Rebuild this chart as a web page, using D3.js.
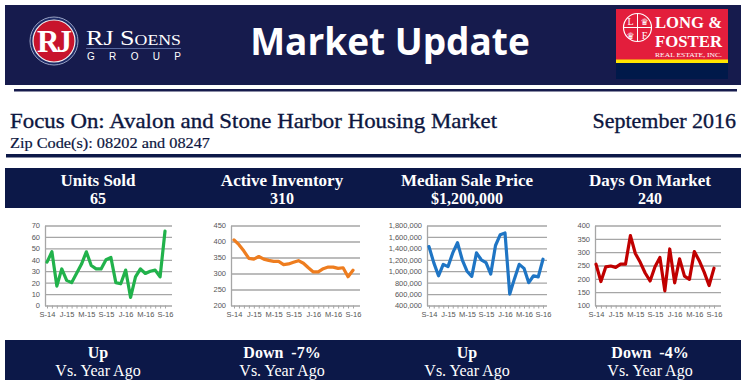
<!DOCTYPE html>
<html>
<head>
<meta charset="utf-8">
<script src="https://cdn.jsdelivr.net/npm/d3@7"></script>
<style>
  body { margin: 0; background: #fff; }
  svg { display: block; }
</style>
</head>
<body>
<svg id="page" width="745" height="381"></svg>
<script>
// Data
const months = ["S-14","O-14","N-14","D-14","J-15","F-15","M-15","A-15","M-15","J-15","J-15","A-15",
                "S-15","O-15","N-15","D-15","J-16","F-16","M-16","A-16","M-16","J-16","J-16","A-16","S-16"];
const labelEvery = [0, 4, 8, 12, 16, 20, 24];

const unitsSold       = [38,47,17,32,22,20,28,36,47,35,32,32,40,42,20,19,31,7,25,32,28,30,31,25,65];
const activeInventory = [405,390,370,347,345,353,345,341,338,338,328,330,335,340,332,318,305,305,315,320,320,316,318,290,310];
const medianPrice     = [1430000,1150000,920000,1120000,1080000,1320000,1500000,1200000,1000000,910000,1320000,1200000,
                         1150000,950000,1450000,1640000,1670000,600000,870000,1120000,1050000,800000,920000,900000,1210000];
const daysOnMarket    = [255,190,245,248,243,255,255,362,295,262,222,192,245,280,155,312,185,275,210,198,302,268,225,175,240];

const unitsTicks = [0,10,20,30,40,50,60,70];
const invTicks   = [200,250,300,350,400,450];
const priceTicks = [400000,600000,800000,1000000,1200000,1400000,1600000,1800000];
const domTicks   = [100,150,200,250,300,350,400];

const headings = ["Units Sold", "Active Inventory", "Median Sale Price", "Days On Market"];
const current  = ["65", "310", "$1,200,000", "240"];
const change   = ["Up", "Down  -7%", "Up", "Down  -4%"];

const NAVY = "#0c1848";
const HEAD = "#161b4d";
const INK  = "#0d1640";
const colCenters = [98, 282, 467, 650];

const svg = d3.select("#page");

// Header
svg.append("rect").attr("x", 5).attr("y", 5).attr("width", 736).attr("height", 80).attr("fill", HEAD);
svg.append("rect").attr("x", 14).attr("y", 89).attr("width", 723).attr("height", 2.5).attr("fill", HEAD);

// RJ Soens logo
const rj = svg.append("g");
rj.append("circle").attr("cx", 54).attr("cy", 41).attr("r", 24).attr("fill", "#1d2a66").attr("stroke", "#9aa3c4").attr("stroke-width", 1);
rj.append("circle").attr("cx", 54).attr("cy", 41).attr("r", 21).attr("fill", "#c8142c").attr("stroke", "#f2f2f2").attr("stroke-width", 1.2);
rj.append("text").attr("x", 53).attr("y", 52).attr("text-anchor", "middle")
  .attr("font-family", "Liberation Serif").attr("font-weight", "bold").attr("font-size", 31)
  .attr("fill", "#fff").attr("letter-spacing", -3).text("RJ");
rj.append("text").attr("x", 86).attr("y", 45)
  .attr("font-family", "Liberation Serif").attr("font-size", 22).attr("fill", "#fff")
  .attr("font-variant", "small-caps").attr("textLength", 95).attr("lengthAdjust", "spacingAndGlyphs")
  .text("RJ Soens");
rj.append("line").attr("x1", 86).attr("x2", 181).attr("y1", 48.5).attr("y2", 48.5).attr("stroke", "#5a6aa0").attr("stroke-width", 1);
rj.append("text").attr("x", 87).attr("y", 60)
  .attr("font-family", "Liberation Sans").attr("font-size", 10).attr("fill", "#fff")
  .attr("textLength", 94).text("GROUP");

// Title
svg.append("text").attr("x", 390).attr("y", 55).attr("text-anchor", "middle")
  .attr("font-family", "Open Sans").attr("font-weight", "bold").attr("font-size", 37)
  .attr("fill", "#fff").text("Market Update");

// Long & Foster logo
const lf = svg.append("g");
lf.append("rect").attr("x", 616).attr("y", 9).attr("width", 112).attr("height", 70).attr("fill", "#00194a");
lf.append("rect").attr("x", 616).attr("y", 9).attr("width", 112).attr("height", 51).attr("fill", "#e31e3c");
lf.append("rect").attr("x", 616).attr("y", 59.5).attr("width", 112).attr("height", 3.5).attr("fill", "#ffe600");
lf.append("circle").attr("cx", 637.5).attr("cy", 27.5).attr("r", 14).attr("fill", "none").attr("stroke", "#fff").attr("stroke-width", 1.2);
lf.append("line").attr("x1", 637.5).attr("x2", 637.5).attr("y1", 13.5).attr("y2", 41.5).attr("stroke", "#fff").attr("stroke-width", 1);
lf.append("line").attr("x1", 623.5).attr("x2", 651.5).attr("y1", 27.5).attr("y2", 27.5).attr("stroke", "#fff").attr("stroke-width", 1);
[["L", 630.5, 25], ["F", 644.5, 38.5]].forEach(([t, x, y]) =>
  lf.append("text").attr("x", x).attr("y", y).attr("text-anchor", "middle")
    .attr("font-family", "Liberation Serif").attr("font-size", 10).attr("fill", "#fff").text(t));
[["\u265B", 644.5, 25], ["\u265B", 630.5, 38.5]].forEach(([t, x, y]) =>
  lf.append("text").attr("x", x).attr("y", y).attr("text-anchor", "middle")
    .attr("font-family", "DejaVu Sans").attr("font-size", 9).attr("fill", "#fff").text(t));
lf.append("text").attr("x", 655).attr("y", 28).attr("font-family", "Liberation Serif").attr("font-weight", "bold")
  .attr("font-size", 17).attr("fill", "#fff").attr("textLength", 67).attr("lengthAdjust", "spacingAndGlyphs").text("LONG &");
lf.append("text").attr("x", 655).attr("y", 47).attr("font-family", "Liberation Serif").attr("font-weight", "bold")
  .attr("font-size", 17).attr("fill", "#fff").attr("textLength", 67).attr("lengthAdjust", "spacingAndGlyphs").text("FOSTER");
lf.append("text").attr("x", 655).attr("y", 57).attr("font-family", "Liberation Serif")
  .attr("font-size", 6.5).attr("fill", "#fff").attr("textLength", 67).attr("lengthAdjust", "spacingAndGlyphs").text("REAL ESTATE, INC.");

// Focus line
svg.append("text").attr("x", 10).attr("y", 128).attr("font-family", "Liberation Serif").attr("font-size", 22)
  .attr("fill", INK).attr("stroke", INK).attr("stroke-width", 0.35)
  .attr("textLength", 487).attr("lengthAdjust", "spacingAndGlyphs")
  .text("Focus On: Avalon and Stone Harbor Housing Market");
svg.append("text").attr("x", 736).attr("y", 128).attr("text-anchor", "end").attr("font-family", "Liberation Serif")
  .attr("font-size", 22).attr("fill", INK).attr("stroke", INK).attr("stroke-width", 0.35)
  .text("September 2016");
svg.append("text").attr("x", 10).attr("y", 148).attr("font-family", "Liberation Serif").attr("font-size", 15)
  .attr("fill", INK).attr("stroke", INK).attr("stroke-width", 0.2)
  .attr("textLength", 200).attr("lengthAdjust", "spacingAndGlyphs")
  .text("Zip Code(s): 08202 and 08247");
svg.append("rect").attr("x", 6).attr("y", 154).attr("width", 735).attr("height", 3.5).attr("fill", NAVY);

// Top band
svg.append("rect").attr("x", 5).attr("y", 168).attr("width", 736).attr("height", 40).attr("fill", NAVY);
headings.forEach((h, i) => {
  svg.append("text").attr("x", colCenters[i]).attr("y", 186).attr("text-anchor", "middle")
    .attr("font-family", "Liberation Serif").attr("font-weight", "bold").attr("font-size", 17)
    .attr("fill", "#fff").text(h);
  svg.append("text").attr("x", colCenters[i]).attr("y", 204).attr("text-anchor", "middle")
    .attr("font-family", "Liberation Serif").attr("font-weight", "bold").attr("font-size", 16)
    .attr("fill", "#fff").text(current[i]);
});

// Bottom band
svg.append("rect").attr("x", 5).attr("y", 340).attr("width", 736).attr("height", 40).attr("fill", NAVY);
change.forEach((c, i) => {
  svg.append("text").attr("x", colCenters[i]).attr("y", 358).attr("text-anchor", "middle")
    .attr("font-family", "Liberation Serif").attr("font-weight", "bold").attr("font-size", 16)
    .attr("fill", "#fff").attr("xml:space", "preserve").text(c);
  svg.append("text").attr("x", colCenters[i]).attr("y", 376).attr("text-anchor", "middle")
    .attr("font-family", "Liberation Serif").attr("font-size", 16)
    .attr("fill", "#fff").text("Vs. Year Ago");
});

// Charts
const charts = [
  { values: unitsSold,       ticks: unitsTicks, color: "#21b24b", fmt: d3.format("d"),  x0: 45,  p0: 47,  p1: 165, x1: 172 },
  { values: activeInventory, ticks: invTicks,   color: "#ee7d1f", fmt: d3.format("d"),  x0: 231, p0: 234, p1: 353, x1: 360 },
  { values: medianPrice,     ticks: priceTicks, color: "#1f75c4", fmt: d3.format(",d"), x0: 427, p0: 429, p1: 543, x1: 547 },
  { values: daysOnMarket,    ticks: domTicks,   color: "#c00000", fmt: d3.format("d"),  x0: 595, p0: 596, p1: 714, x1: 721 }
];
const yTop = 225.5, yBot = 305.5;

charts.forEach(c => {
  const g = svg.append("g");
  const x = d3.scalePoint().domain(d3.range(months.length)).range([c.p0, c.p1]);
  const y = d3.scaleLinear().domain(d3.extent(c.ticks)).range([yBot, yTop]);

  const ya = g.append("g").attr("transform", `translate(${c.x0},0)`)
    .call(d3.axisLeft(y).tickValues(c.ticks).tickFormat(c.fmt).tickSizeInner(-(c.x1 - c.x0)).tickSizeOuter(0).tickPadding(5));
  ya.select(".domain").attr("stroke", "#a6a6a6").attr("stroke-width", 1.3);
  ya.selectAll(".tick line").attr("stroke", "#a6a6a6").attr("stroke-width", 1.3);
  ya.selectAll(".tick text").attr("fill", "#555").attr("font-family", "Liberation Sans").attr("font-size", 7.5);

  const xa = g.append("g").attr("transform", `translate(0,${yBot})`)
    .call(d3.axisBottom(x).tickSizeInner(3).tickSizeOuter(0).tickPadding(3)
      .tickFormat(i => labelEvery.includes(i) ? months[i] : ""));
  xa.select(".domain").remove();
  xa.selectAll(".tick line").attr("stroke", "#a6a6a6").attr("stroke-width", 1);
  xa.selectAll(".tick text").attr("fill", "#555").attr("font-family", "Liberation Sans").attr("font-size", 7.5);

  g.append("path").datum(c.values)
    .attr("fill", "none").attr("stroke", c.color).attr("stroke-width", 3.2)
    .attr("stroke-linejoin", "round").attr("stroke-linecap", "round")
    .attr("d", d3.line().x((d, i) => x(i)).y(d => y(d)));
});
</script>
</body>
</html>
